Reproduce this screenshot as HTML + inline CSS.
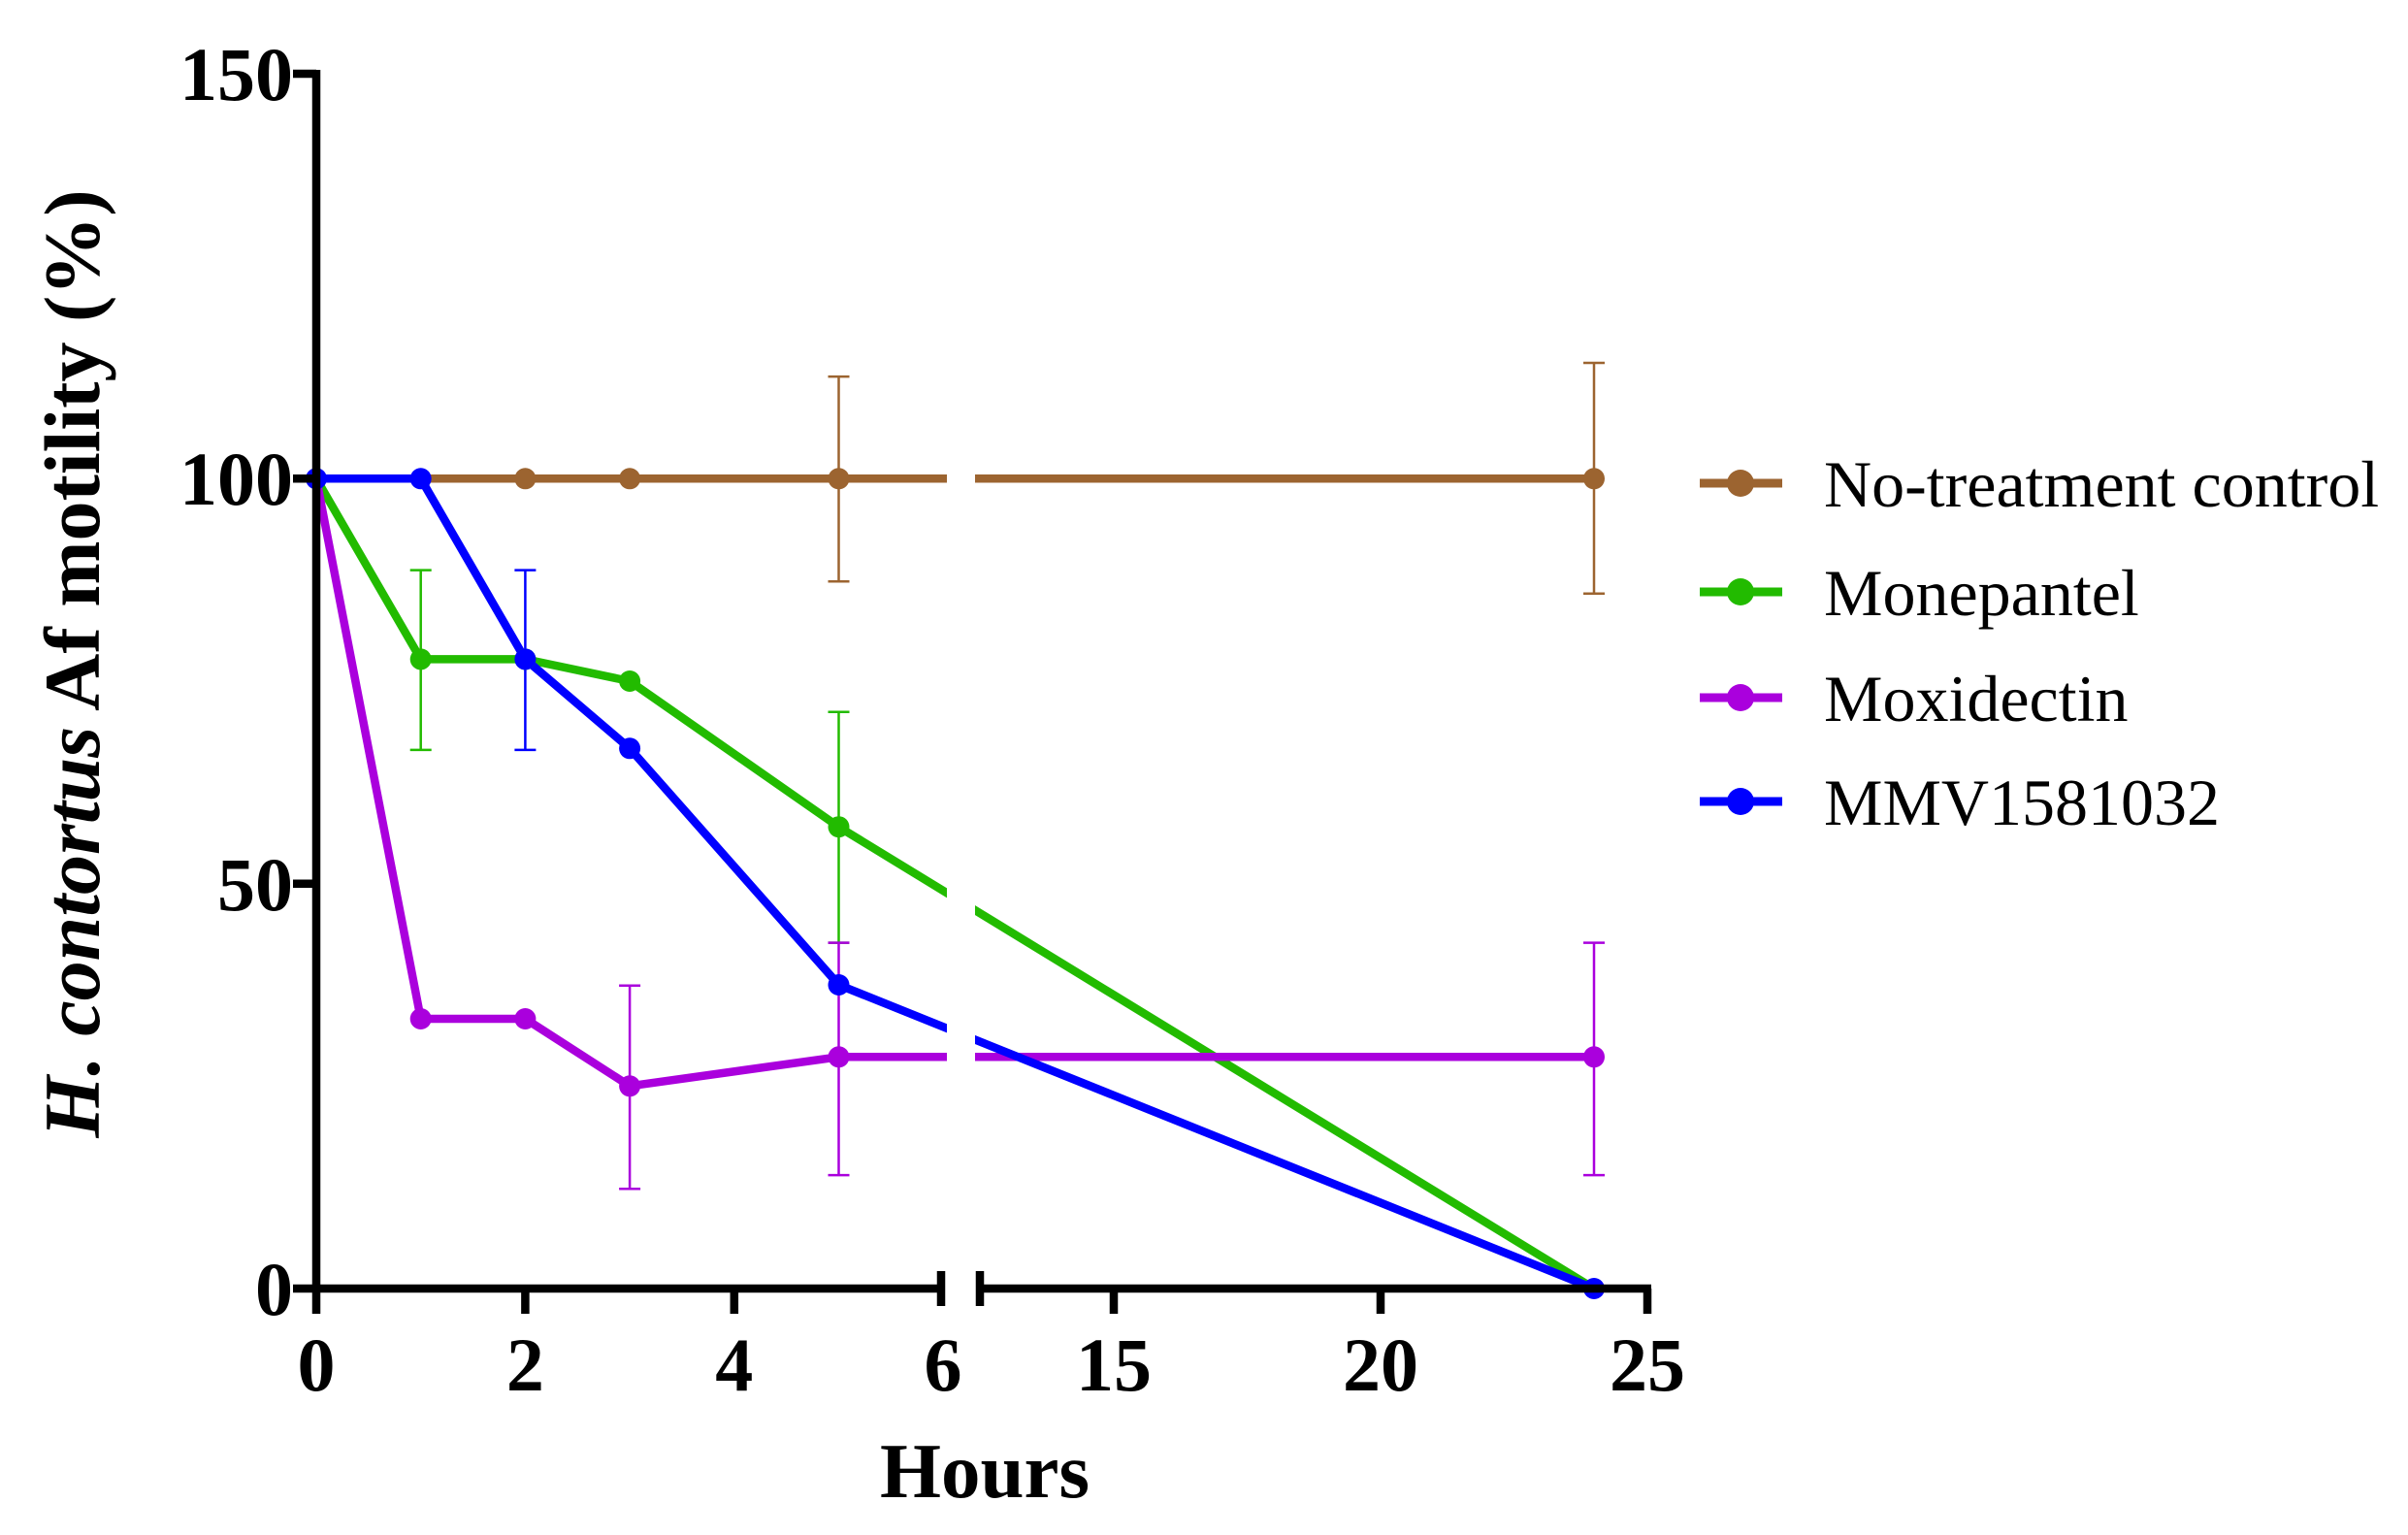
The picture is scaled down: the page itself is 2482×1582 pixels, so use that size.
<!DOCTYPE html>
<html><head><meta charset="utf-8"><style>html,body{margin:0;padding:0;background:#fff}</style></head>
<body>
<svg width="2482" height="1577" viewBox="0 0 2482 1577" xmlns="http://www.w3.org/2000/svg" font-family="Liberation Serif, serif">
<rect width="2482" height="1577" fill="#fff"/>
<g stroke-width="2.5" fill="none">
 <g stroke="#9c6430">
  <path d="M864.5 388.1V599.3M853.5 388.1h22M853.5 599.3h22"/>
  <path d="M1643 374V611.8M1632 374h22M1632 611.8h22"/>
 </g>
 <g stroke="#22bb00">
  <path d="M433.7 587.6V772.9M422.7 587.6h22M422.7 772.9h22"/>
  <path d="M864.5 733.7V971.6M853.5 733.7h22M853.5 971.6h22"/>
 </g>
 <g stroke="#0000ff">
  <path d="M541.4 587.6V772.9M530.4 587.6h22M530.4 772.9h22"/>
 </g>
 <g stroke="#aa00dd">
  <path d="M649.1 1015.8V1225.3M638.1 1015.8h22M638.1 1225.3h22"/>
  <path d="M864.5 971.6V1211.1M853.5 971.6h22M853.5 1211.1h22"/>
  <path d="M1643 971.6V1211.1M1632 971.6h22M1632 1211.1h22"/>
 </g>
</g>
<g fill="none" stroke-width="8.5" stroke-linejoin="round">
 <polyline stroke="#9c6430" points="326,493.3 433.7,493.3 541.4,493.3 649.1,493.3 864.5,493.3 1643,493.3"/>
 <polyline stroke="#22bb00" points="326,493.3 433.7,679.4 541.4,679.4 649.1,702 864.5,852.2 1643,1328"/>
 <polyline stroke="#aa00dd" points="326,493.3 433.7,1050 541.4,1050 649.1,1119.3 864.5,1089.3 1643,1089.3"/>
 <polyline stroke="#0000ff" points="326,493.3 433.7,493.3 541.4,679.4 649.1,771.3 864.5,1015 1643,1328"/>
</g>
<rect x="976" y="60" width="29" height="1295" fill="#fff"/>
<g fill="#9c6430"><circle cx="541.4" cy="493.3" r="11"/><circle cx="649.1" cy="493.3" r="11"/><circle cx="864.5" cy="493.3" r="11"/><circle cx="1643" cy="493.3" r="11"/></g>
<g fill="#22bb00"><circle cx="433.7" cy="679.4" r="11"/><circle cx="541.4" cy="679.4" r="11"/><circle cx="649.1" cy="702" r="11"/><circle cx="864.5" cy="852.2" r="11"/></g>
<g fill="#aa00dd"><circle cx="433.7" cy="1050" r="11"/><circle cx="541.4" cy="1050" r="11"/><circle cx="649.1" cy="1119.3" r="11"/><circle cx="864.5" cy="1089.3" r="11"/><circle cx="1643" cy="1089.3" r="11"/></g>
<g fill="#0000ff"><circle cx="326" cy="493.3" r="11"/><circle cx="433.7" cy="493.3" r="11"/><circle cx="541.4" cy="679.4" r="11"/><circle cx="649.1" cy="771.3" r="11"/><circle cx="864.5" cy="1015" r="11"/><circle cx="1643" cy="1328" r="11"/></g>
<g stroke="#000" stroke-width="8.5" fill="none">
 <path d="M326 72V1332"/>
 <path d="M302 76H326M302 493.3H326M302 910.7H326M302 1328H326"/>
 <path d="M322 1328H973M1008 1328H1702"/>
 <path d="M326 1328V1354M541.4 1328V1354M756.8 1328V1354M1148 1328V1354M1423 1328V1354M1698 1328V1354"/>
 <path d="M970 1310V1346M1010 1310V1346"/>
</g>
<g font-weight="bold" font-size="78" fill="#000">
 <g text-anchor="end">
  <text x="302" y="103">150</text><text x="302" y="520">100</text><text x="302" y="938">50</text><text x="302" y="1355">0</text>
 </g>
 <g text-anchor="middle">
  <text x="326" y="1433">0</text><text x="541.4" y="1433">2</text><text x="756.8" y="1433">4</text><text x="972" y="1433">6</text>
  <text x="1148" y="1433">15</text><text x="1423" y="1433">20</text><text x="1698" y="1433">25</text>
 </g>
 <text x="1015" y="1543" text-anchor="middle" font-size="81">Hours</text>
 <text transform="translate(102,684) rotate(-90)" text-anchor="middle" font-size="82"><tspan font-style="italic">H. contortus</tspan> Af motility (%)</text>
</g>
<g stroke-width="9">
 <line x1="1752" y1="498" x2="1837" y2="498" stroke="#9c6430"/><circle cx="1794" cy="498" r="14" fill="#9c6430"/>
 <line x1="1752" y1="610" x2="1837" y2="610" stroke="#22bb00"/><circle cx="1794" cy="610" r="14" fill="#22bb00"/>
 <line x1="1752" y1="719" x2="1837" y2="719" stroke="#aa00dd"/><circle cx="1794" cy="719" r="14" fill="#aa00dd"/>
 <line x1="1752" y1="826" x2="1837" y2="826" stroke="#0000ff"/><circle cx="1794" cy="826" r="14" fill="#0000ff"/>
</g>
<g font-size="68" fill="#000">
 <text x="1880" y="522">No-treatment control</text>
 <text x="1880" y="634">Monepantel</text>
 <text x="1880" y="743">Moxidectin</text>
 <text x="1880" y="850">MMV1581032</text>
</g>
</svg>
</body></html>
